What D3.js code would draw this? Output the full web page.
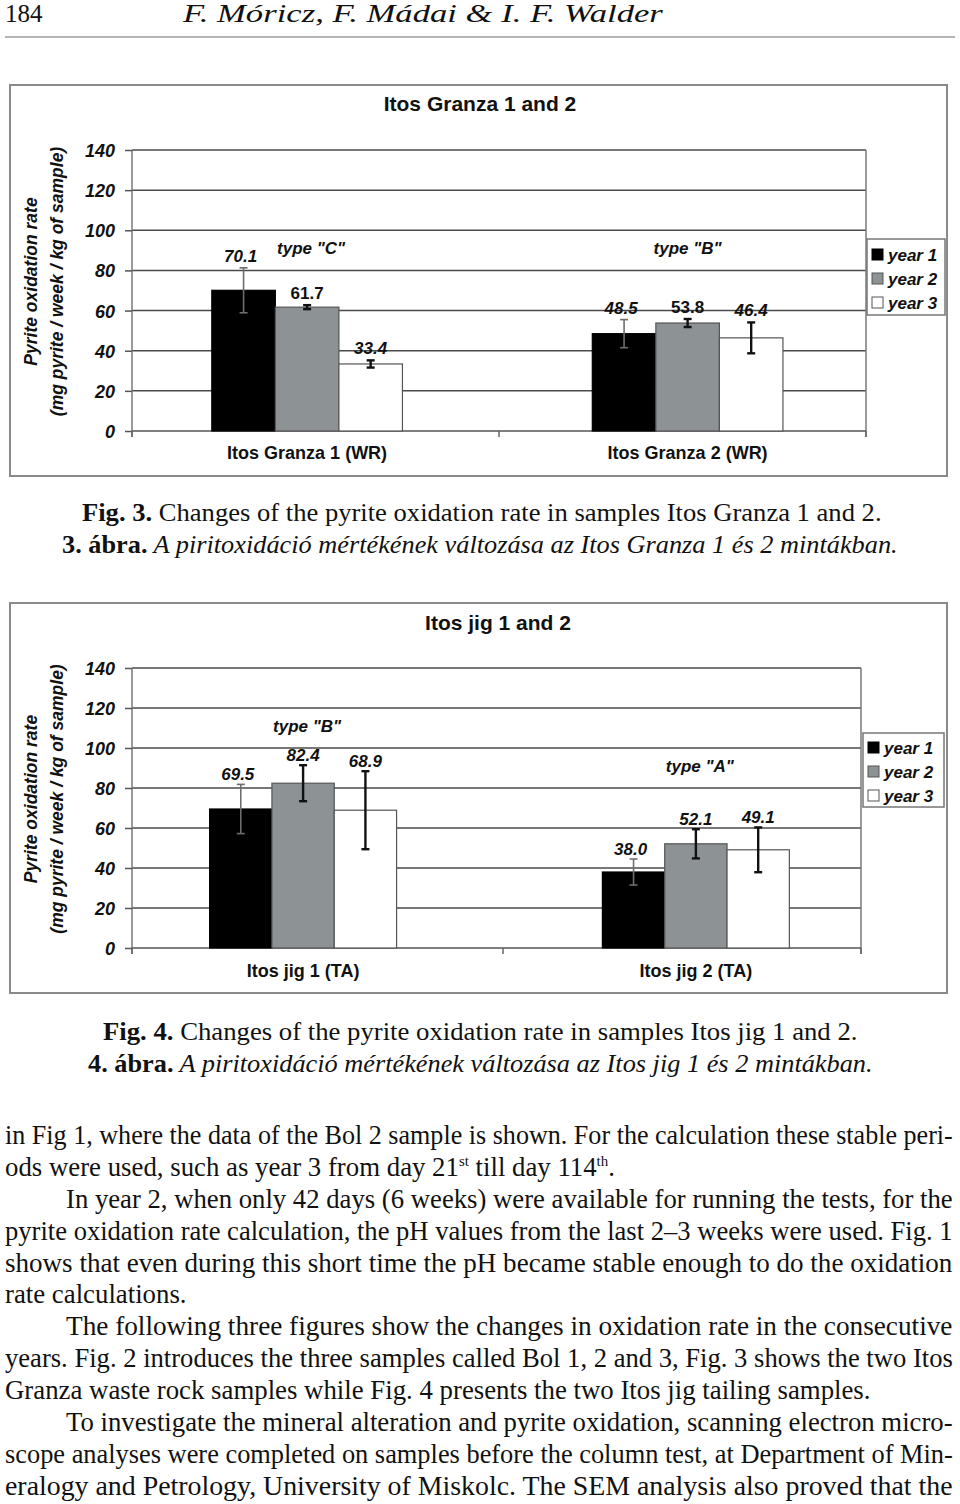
<!DOCTYPE html>
<html>
<head>
<meta charset="utf-8">
<script src="https://cdn.jsdelivr.net/npm/d3@7"></script>
<style>
  html, body { margin: 0; padding: 0; background: #fff; }
  svg { display: block; }
  .serif { font-family: "Liberation Serif", "Times New Roman", Times, serif; }
</style>
</head>
<body>
<svg id="page" width="960" height="1504"></svg>
<script>
// ---------------- DATA ----------------
const years = ["year 1", "year 2", "year 3"];
const yTicks = [0, 20, 40, 60, 80, 100, 120, 140];

const fig3Categories = ["Itos Granza 1 (WR)", "Itos Granza 2 (WR)"];
const fig3Values = [[70.1, 61.7, 33.4], [48.5, 53.8, 46.4]];
const fig3Errors = [[11.2, 1.0, 1.8], [7.0, 2.0, 7.7]];
const fig3Types = ['type "C"', 'type "B"'];

const fig4Categories = ["Itos jig 1 (TA)", "Itos jig 2 (TA)"];
const fig4Values = [[69.5, 82.4, 68.9], [38.0, 52.1, 49.1]];
const fig4Errors = [[12.3, 9.0, 19.5], [6.5, 7.3, 11.2]];
const fig4Types = ['type "B"', 'type "A"'];

const yTitle1 = "Pyrite oxidation rate";
const yTitle2 = "(mg pyrite / week / kg of sample)";

// ---------------- STYLE / LAYOUT ----------------
const fills = ["#000000", "#8d9295", "#ffffff"];
const errColors = ["#6e6e6e", "#111111", "#111111"];
const errWidths = [1.6, 2.4, 2.4];
const sans = "'Liberation Sans', Arial, sans-serif";

const svg = d3.select("#page");
svg.append("rect").attr("width", 960).attr("height", 1504).attr("fill", "#fff");

function drawChart(cfg, categories, values, errors, types) {
  const g = svg.append("g");
  g.append("rect")
    .attr("x", cfg.frame[0]).attr("y", cfg.frame[1])
    .attr("width", cfg.frame[2] - cfg.frame[0]).attr("height", cfg.frame[3] - cfg.frame[1])
    .attr("fill", "#fff").attr("stroke", "#8a8a8a").attr("stroke-width", 2);

  const y = d3.scaleLinear().domain([0, 140]).range([cfg.plot.yBot, cfg.plot.yTop]);
  const x0 = d3.scaleBand().domain(categories).range([cfg.plot.x0, cfg.plot.x1])
    .paddingInner(cfg.padInner).paddingOuter(cfg.padOuter).align(cfg.align);
  const x1 = d3.scaleBand().domain(years).range([0, x0.bandwidth()]);

  g.append("g").selectAll("line").data(yTicks.filter(t => t > 0)).join("line")
    .attr("x1", cfg.plot.x0).attr("x2", cfg.plot.x1)
    .attr("y1", d => y(d)).attr("y2", d => y(d))
    .attr("stroke", "#4a4a4a").attr("stroke-width", 1.5);
  g.append("line").attr("x1", cfg.plot.x1).attr("x2", cfg.plot.x1)
    .attr("y1", y(140)).attr("y2", y(0) + 6)
    .attr("stroke", "#7a7a7a").attr("stroke-width", 1.5);

  const yAxis = d3.axisLeft(y).tickValues(yTicks).tickSize(7).tickPadding(10).tickFormat(d3.format("d"));
  const ya = g.append("g").attr("transform", `translate(${cfg.plot.x0},0)`).call(yAxis);
  ya.select(".domain").attr("stroke", "#7a7a7a").attr("stroke-width", 1.5)
    .attr("d", `M0,${y(140)}V${y(0) + 6}`);
  ya.selectAll(".tick line").attr("stroke", "#555").attr("stroke-width", 1.5);
  ya.selectAll(".tick text").attr("font-family", sans).attr("font-size", 18)
    .attr("font-weight", "bold").attr("font-style", "italic").attr("fill", "#111")
    .attr("dy", "0.36em");

  g.append("line").attr("x1", cfg.plot.x0).attr("x2", cfg.plot.x1)
    .attr("y1", y(0)).attr("y2", y(0)).attr("stroke", "#555").attr("stroke-width", 1.5);
  const bounds = [cfg.plot.x0, cfg.midTick, cfg.plot.x1];
  g.append("g").selectAll("line").data(bounds).join("line")
    .attr("x1", d => d).attr("x2", d => d).attr("y1", y(0)).attr("y2", y(0) + 6)
    .attr("stroke", "#666").attr("stroke-width", 1.5);

  const groups = g.append("g").selectAll("g").data(categories).join("g")
    .attr("transform", d => `translate(${x0(d)},0)`);
  groups.each(function(cat, ci) {
    const gg = d3.select(this);
    gg.selectAll("rect").data(values[ci]).join("rect")
      .attr("x", (d, i) => x1(years[i]))
      .attr("y", d => y(d))
      .attr("width", x1.bandwidth())
      .attr("height", d => y(0) - y(d))
      .attr("fill", (d, i) => fills[i])
      .attr("stroke", (d, i) => i === 0 ? "#000" : "#555")
      .attr("stroke-width", 1.2);
    values[ci].forEach((v, i) => {
      const cx = x1(years[i]) + x1.bandwidth() / 2;
      const e = errors[ci][i];
      const cap = 4;
      const eg = gg.append("g").attr("stroke", errColors[i]).attr("stroke-width", errWidths[i]);
      eg.append("line").attr("x1", cx).attr("x2", cx).attr("y1", y(v + e)).attr("y2", y(v - e));
      eg.append("line").attr("x1", cx - cap).attr("x2", cx + cap).attr("y1", y(v + e)).attr("y2", y(v + e));
      eg.append("line").attr("x1", cx - cap).attr("x2", cx + cap).attr("y1", y(v - e)).attr("y2", y(v - e));
      gg.append("text")
        .attr("x", cx - (i === 0 ? 3 : 0)).attr("y", y(v + e) - cfg.labelOffset)
        .attr("text-anchor", "middle")
        .attr("font-family", sans).attr("font-size", 17).attr("font-weight", "bold")
        .attr("font-style", cfg.upright[ci][i] ? "normal" : "italic")
        .attr("fill", "#111")
        .text(d3.format(".1f")(v));
    });
    gg.append("text")
      .attr("x", x0.bandwidth() / 2 + cfg.typeDx[ci]).attr("y", y(cfg.typeYs[ci]))
      .attr("text-anchor", "middle")
      .attr("font-family", sans).attr("font-size", 17).attr("font-weight", "bold")
      .attr("font-style", "italic").attr("fill", "#111")
      .text(types[ci]);
    gg.append("text")
      .attr("x", x0.bandwidth() / 2).attr("y", cfg.xLabelY)
      .attr("text-anchor", "middle")
      .attr("font-family", sans).attr("font-size", 18).attr("font-weight", "bold")
      .attr("fill", "#111")
      .text(cat);
  });

  g.append("text").attr("x", cfg.titleX).attr("y", cfg.titleY)
    .attr("text-anchor", "middle").attr("font-family", sans).attr("font-size", 21)
    .attr("font-weight", "bold").attr("fill", "#111").text(cfg.title);

  const ymid = (y(0) + y(140)) / 2 - 9;
  [[yTitle1, 37], [yTitle2, 63]].forEach(([t, bx]) => {
    g.append("text").attr("transform", `translate(${bx},${ymid}) rotate(-90)`)
      .attr("text-anchor", "middle").attr("font-family", sans).attr("font-size", 17.5)
      .attr("font-weight", "bold").attr("font-style", "italic").attr("fill", "#111")
      .text(t);
  });

  const L = cfg.legend;
  g.append("rect").attr("x", L.x).attr("y", L.y).attr("width", L.w).attr("height", L.h)
    .attr("fill", "#fff").attr("stroke", "#777").attr("stroke-width", 1.5);
  const li = g.append("g").selectAll("g").data(years).join("g")
    .attr("transform", (d, i) => `translate(${L.x},${L.y + L.first + i * L.pitch})`);
  li.append("rect").attr("x", 5).attr("y", -12).attr("width", 11).attr("height", 11)
    .attr("fill", (d, i) => fills[i]).attr("stroke", (d, i) => i === 0 ? "#000" : "#555")
    .attr("stroke-width", 1);
  li.append("text").attr("x", 21).attr("y", 0)
    .attr("font-family", sans).attr("font-size", 17).attr("font-weight", "bold")
    .attr("font-style", "italic").attr("fill", "#111").text(d => d);
}

drawChart({
  frame: [10, 85, 947, 476],
  plot: { x0: 132, x1: 866, yTop: 150, yBot: 431 },
  padInner: 0.499, padOuter: 0.214, align: 0.49, midTick: 499,
  title: "Itos Granza 1 and 2", titleX: 480, titleY: 111,
  legend: { x: 867, y: 239, w: 78, h: 76, first: 22, pitch: 24 },
  xLabelY: 459, typeYs: [88, 88], typeDx: [4, 0], labelOffset: 6,
  upright: [[false, true, false], [false, true, false]]
}, fig3Categories, fig3Values, fig3Errors, fig3Types);

drawChart({
  frame: [10, 603, 947, 993],
  plot: { x0: 132, x1: 861, yTop: 668, yBot: 948 },
  padInner: 0.524, padOuter: 0.19, align: 0.52, midTick: 503,
  title: "Itos jig 1 and 2", titleX: 498, titleY: 630,
  legend: { x: 863, y: 733, w: 81, h: 74, first: 21, pitch: 24 },
  xLabelY: 977, typeYs: [108, 88], typeDx: [4, 4], labelOffset: 4,
  upright: [[false, false, false], [false, false, false]]
}, fig4Categories, fig4Values, fig4Errors, fig4Types);

// ---------------- PAGE TEXT ----------------
function fitText(sel, x0, width) {
  const w = sel.node().getComputedTextLength();
  sel.attr("transform", `translate(${x0},0) scale(${width / w},1)`).attr("x", 0);
  return width / w;
}

svg.append("text").attr("class", "serif").attr("x", 5).attr("y", 22).attr("font-size", 25)
  .attr("fill", "#111").text("184");
const hdr = svg.append("text").attr("class", "serif").attr("y", 22).attr("font-size", 25)
  .attr("font-style", "italic").attr("fill", "#111").text("F. Móricz, F. Mádai & I. F. Walder");
fitText(hdr, 183, 480);
svg.append("line").attr("x1", 5).attr("x2", 955).attr("y1", 37).attr("y2", 37)
  .attr("stroke", "#b5b5b5").attr("stroke-width", 2);

function caption(boldPart, rest, italicRest, baseline, x0, width) {
  const t = svg.append("text").attr("class", "serif").attr("y", baseline)
    .attr("font-size", 25).attr("fill", "#111");
  t.append("tspan").attr("font-weight", "bold").text(boldPart);
  t.append("tspan").attr("font-style", italicRest ? "italic" : "normal").text(rest);
  fitText(t, x0, width);
}
caption("Fig. 3.", " Changes of the pyrite oxidation rate in samples Itos Granza 1 and 2.", false, 521, 82, 800);
caption("3. ábra.", " A piritoxidáció mértékének változása az Itos Granza 1 és 2 mintákban.", true, 553, 62, 836);
caption("Fig. 4.", " Changes of the pyrite oxidation rate in samples Itos jig 1 and 2.", false, 1040, 103, 755);
caption("4. ábra.", " A piritoxidáció mértékének változása az Itos jig 1 és 2 mintákban.", true, 1072, 88, 785);

const bodyLines = [
  { parts: ["in Fig 1, where the data of the Bol 2 sample is shown. For the calculation these stable peri-"], x: 5, j: true },
  { parts: ["ods were used, such as year 3 from day 21", ["st"], " till day 114", ["th"], "."], x: 5, j: false },
  { parts: ["In year 2, when only 42 days (6 weeks) were available for running the tests, for the"], x: 66, j: true },
  { parts: ["pyrite oxidation rate calculation, the pH values from the last 2–3 weeks were used. Fig. 1"], x: 5, j: true },
  { parts: ["shows that even during this short time the pH became stable enough to do the oxidation"], x: 5, j: true },
  { parts: ["rate calculations."], x: 5, j: false },
  { parts: ["The following three figures show the changes in oxidation rate in the consecutive"], x: 66, j: true },
  { parts: ["years. Fig. 2 introduces the three samples called Bol 1, 2 and 3, Fig. 3 shows the two Itos"], x: 5, j: true },
  { parts: ["Granza waste rock samples while Fig. 4 presents the two Itos jig tailing samples."], x: 5, j: false },
  { parts: ["To investigate the mineral alteration and pyrite oxidation, scanning electron micro-"], x: 66, j: true },
  { parts: ["scope analyses were completed on samples before the column test, at Department of Min-"], x: 5, j: true },
  { parts: ["eralogy and Petrology, University of Miskolc. The SEM analysis also proved that the"], x: 5, j: true }
];
const bodyTop = 1144, bodyPitch = 31.9;
const ratios = [];
const pending = [];
bodyLines.forEach((ln, i) => {
  const t = svg.append("text").attr("class", "serif").attr("y", bodyTop + i * bodyPitch)
    .attr("font-size", 27).attr("fill", "#111");
  let shift = 0;
  ln.parts.forEach(p => {
    if (Array.isArray(p)) {
      t.append("tspan").attr("font-size", 15).attr("dy", -10).text(p[0]);
      shift = 10;
    } else {
      const ts = t.append("tspan").text(p);
      if (shift) { ts.attr("dy", shift); shift = 0; }
    }
  });
  if (ln.j) ratios.push(fitText(t, ln.x, 953 - ln.x));
  else pending.push([t, ln.x]);
});
const r = d3.mean(ratios);
pending.forEach(([t, x]) => {
  t.attr("transform", `translate(${x},0) scale(${r},1)`).attr("x", 0);
});
</script>
</body>
</html>
